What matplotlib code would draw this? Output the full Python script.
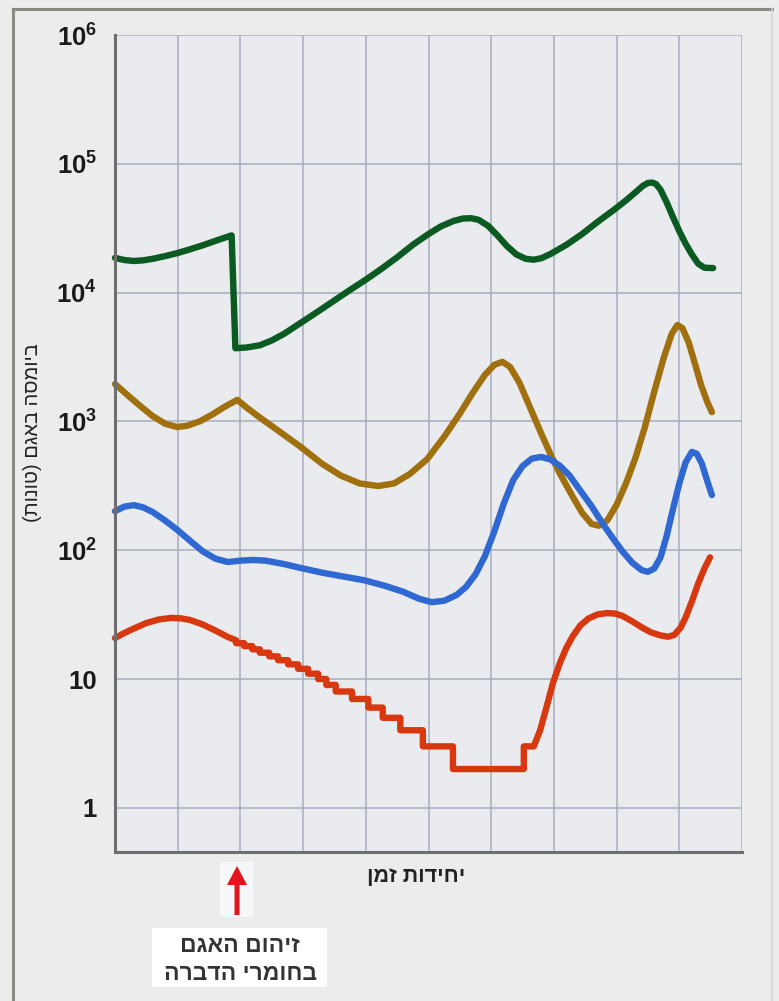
import matplotlib
matplotlib.use("Agg")
import matplotlib.pyplot as plt
from matplotlib.lines import Line2D
from matplotlib.patches import Rectangle, FancyArrow
from matplotlib.transforms import IdentityTransform
from matplotlib.ticker import NullLocator, FixedLocator

plt.rcParams['font.family'] = ['Liberation Sans', 'DejaVu Sans']
plt.rcParams['mathtext.fontset'] = 'custom'
plt.rcParams['mathtext.rm'] = 'Liberation Sans:bold'
plt.rcParams['mathtext.bf'] = 'Liberation Sans:bold'
plt.rcParams['mathtext.it'] = 'Liberation Sans:bold'

# ---------------- data ----------------
green_t = [0.00, 0.15, 0.30, 0.45, 0.60, 0.80, 1.00, 1.20, 1.40, 1.60, 1.78, 1.86,
           1.92, 2.10, 2.31, 2.50, 2.70, 2.98, 3.25, 3.50, 3.75, 4.00, 4.25, 4.50, 4.75,
           5.00, 5.20, 5.40, 5.55, 5.68, 5.80, 5.95, 6.10, 6.25, 6.40, 6.55, 6.68, 6.80,
           6.95, 7.20, 7.45, 7.70, 7.96, 8.15, 8.30, 8.42, 8.50, 8.57, 8.63, 8.70, 8.80,
           8.90, 9.00, 9.10, 9.20, 9.30, 9.40, 9.54]
green_v = [18600, 17900, 17600, 17800, 18300, 19200, 20300, 21700, 23300, 25200, 27000, 27800,
           3700, 3750, 3900, 4250, 4800, 5900, 7200, 8700, 10500, 12600, 15300, 18800, 23500,
           28500, 32700, 36000, 37600, 37800, 36700, 33000, 27800, 23000, 19800, 18300, 18000, 18500,
           20000, 23500, 28500, 35500, 44000, 52000, 60000, 67500, 71000, 71500, 69500, 63000, 50000,
           38500, 30000, 24000, 19800, 16800, 15600, 15500]

brown_t = [0.00, 0.20, 0.40, 0.60, 0.80, 0.99, 1.15, 1.35, 1.55, 1.75, 1.95, 2.10, 2.30,
           2.60, 2.95, 3.30, 3.60, 3.90, 4.20, 4.45, 4.70, 4.98, 5.25, 5.50, 5.70, 5.90,
           6.05, 6.18, 6.30, 6.45, 6.60, 6.80, 6.95, 7.10, 7.30, 7.45, 7.60, 7.72, 7.85,
           8.00, 8.15, 8.30, 8.45, 8.60, 8.75, 8.88, 8.97, 9.05, 9.15, 9.25, 9.35, 9.45, 9.52]
brown_v = [1950, 1600, 1320, 1100, 960, 905, 925, 1000, 1130, 1300, 1470, 1280, 1080,
           850, 640, 470, 380, 330, 315, 330, 390, 510, 760, 1150, 1650, 2300,
           2750, 2900, 2650, 2000, 1350, 800, 550, 390, 260, 195, 160, 155, 170,
           225, 330, 520, 900, 1700, 3100, 4800, 5600, 5300, 4100, 2800, 1900, 1400, 1180]

blue_t = [0.00, 0.15, 0.30, 0.45, 0.60, 0.80, 1.00, 1.20, 1.40, 1.60, 1.80, 2.00, 2.20,
          2.40, 2.70, 2.95, 3.30, 3.60, 3.97, 4.30, 4.60, 4.85, 5.05, 5.25, 5.45, 5.60,
          5.75, 5.90, 6.05, 6.20, 6.35, 6.50, 6.65, 6.80, 6.95, 7.10, 7.25, 7.40, 7.60,
          7.80, 7.96, 8.10, 8.25, 8.40, 8.50, 8.60, 8.70, 8.80, 8.90, 9.00, 9.10, 9.20,
          9.28, 9.36, 9.45, 9.52]
blue_v = [201, 218, 224, 215, 198, 170, 143, 118, 98, 86, 81, 83, 84,
          83, 78, 73, 67, 63, 58.5, 53, 47.5, 42, 39.5, 40.5, 45, 52,
          65, 90, 140, 230, 350, 450, 515, 530, 505, 450, 380, 300, 220,
          155, 120, 97, 80, 70, 68, 72, 88, 130, 210, 330, 480, 580,
          560, 470, 340, 268]

# red: smooth start, integer staircase (levels and the x where each change happens), smooth end
red_start_t = [0.00, 0.15, 0.32, 0.50, 0.70, 0.90, 1.05, 1.20, 1.40, 1.60, 1.80]
red_start_v = [20.8, 22.8, 24.9, 27.2, 29.0, 29.8, 29.6, 28.7, 26.5, 23.8, 21.2]
red_step_levels = [20, 19, 18, 17, 16, 15, 14, 13, 12, 11, 10,
                   9, 8, 7, 6, 5, 4, 3, 2, 3]
red_step_changes = [1.93, 2.06, 2.19, 2.31, 2.46, 2.60, 2.76, 2.92, 3.08, 3.24,
                    3.37, 3.52, 3.78, 4.04, 4.27, 4.55, 4.91, 5.39, 6.52]
red_end_t = [6.68, 6.78, 6.88, 6.99, 7.10, 7.20, 7.30, 7.42, 7.55, 7.70, 7.85, 7.98,
             8.10, 8.25, 8.40, 8.55, 8.70, 8.82, 8.92, 9.02, 9.10, 9.20, 9.30, 9.40, 9.49]
red_end_v = [3.0, 4.0, 6.0, 9.5, 13.5, 17.5, 21.5, 26.0, 29.5, 31.8, 32.5, 32.2,
             30.8, 28.0, 25.2, 23.0, 21.8, 21.3, 22.0, 25.0, 30.0, 40.0, 55.0, 72.0, 88.0]

ytick_vals = [1, 10, 100, 1e3, 1e4, 1e5, 1e6]
ytick_labels = ['1', '10', r'$10^{2}$', r'$10^{3}$', r'$10^{4}$', r'$10^{5}$', r'$10^{6}$']

# Hebrew strings (logical order); shown in visual order since matplotlib has no bidi
ylabel_txt = "ביומסה באגם (טונות)"
xlabel_txt = "יחידות זמן"
note_lines = ["זיהום האגם", "בחומרי הדברה"]


def visual(s):
    r = s[::-1]
    return r.translate(str.maketrans("()", ")("))


# ---------------- build red path ----------------
red_t = list(red_start_t)
red_v = list(red_start_v)
for i, xc in enumerate(red_step_changes):
    red_t.append(xc); red_v.append(red_step_levels[i])
    red_t.append(xc); red_v.append(red_step_levels[i + 1])
red_t += red_end_t
red_v += red_end_v

# ---------------- figure ----------------
W, H = 779, 1001
fig = plt.figure(figsize=(W / 100, H / 100), dpi=100, facecolor='#ececec')

ax_l, ax_r, ax_t, ax_b = 115, 742, 35, 852
ax = fig.add_axes([ax_l / W, 1 - ax_b / H, (ax_r - ax_l) / W, (ax_b - ax_t) / H])
ax.set_facecolor('#e9ebee')
ax.set_yscale('log')
ax.set_xlim(0, 10)
ax.set_ylim(10 ** -0.343, 1e6)

ax.xaxis.set_major_locator(FixedLocator(list(range(0, 11))))
ax.xaxis.set_minor_locator(NullLocator())
ax.set_xticklabels([])
ax.yaxis.set_major_locator(FixedLocator(ytick_vals))
ax.yaxis.set_minor_locator(NullLocator())
ax.set_yticklabels(ytick_labels, fontsize=18.5, fontweight='bold', color='#1a1a1a')
ax.tick_params(axis='both', length=0)
ax.tick_params(axis='y', pad=13)

ax.set_axisbelow(True)
ax.grid(True, color='#a6aebd', lw=1.1)
for s in ['top', 'right']:
    ax.spines[s].set_visible(False)
for s in ['left', 'bottom']:
    ax.spines[s].set_color('#6e6e6e')
    ax.spines[s].set_linewidth(2.2)

lw = 4.6
kw = dict(lw=lw, solid_joinstyle='round', solid_capstyle='round', clip_on=False)
ax.plot(green_t, green_v, color='#0b5a22', **kw)
ax.plot(brown_t, brown_v, color='#a0700f', **kw)
ax.plot(blue_t, blue_v, color='#3068d2', **kw)
ax.plot(red_t, red_v, color='#d8380f', **kw)

# axis labels
fig.text(33 / W, 1 - 433 / H, visual(ylabel_txt), rotation=90, ha='center', va='center',
         fontsize=14.5, color='#222222')
fig.text(416 / W, 1 - 876 / H, visual(xlabel_txt), ha='center', va='center',
         fontsize=15.5, fontweight='bold', color='#222222')

# arrow and note box (pixel coordinates, origin bottom-left)
fig.add_artist(Rectangle((220 / W, 1 - 917 / H), 33 / W, 55 / H, transform=fig.transFigure,
                         facecolor='#f6f7f8', edgecolor='none', zorder=2))
fig.add_artist(FancyArrow(237, H - 915, 0, 915 - 866, width=5, head_width=20, head_length=19,
                          length_includes_head=True, transform=IdentityTransform(),
                          color='#e3141c', lw=0, zorder=3))
fig.add_artist(Rectangle((152 / W, 1 - 987 / H), 175 / W, 59 / H, transform=fig.transFigure,
                         facecolor='white', edgecolor='none', zorder=2))
fig.text(240 / W, 1 - 945 / H, visual(note_lines[0]), ha='center', va='center',
         fontsize=16.5, fontweight='bold', color='#333333', zorder=4)
fig.text(240 / W, 1 - 973 / H, visual(note_lines[1]), ha='center', va='center',
         fontsize=16.5, fontweight='bold', color='#333333', zorder=4)

# outer frame
fig.add_artist(Line2D([13 / W, 13 / W], [0, 1 - 9 / H], transform=fig.transFigure,
                      color='#8a8a86', lw=2.2))
fig.add_artist(Line2D([13 / W, 772 / W], [1 - 9 / H, 1 - 9 / H], transform=fig.transFigure,
                      color='#8a8a86', lw=2.2))
fig.add_artist(Line2D([772 / W, 772 / W], [0, 1 - 9 / H], transform=fig.transFigure,
                      color='#d4d4d4', lw=1.2))

fig.savefig('out.png', dpi=100, facecolor=fig.get_facecolor())
